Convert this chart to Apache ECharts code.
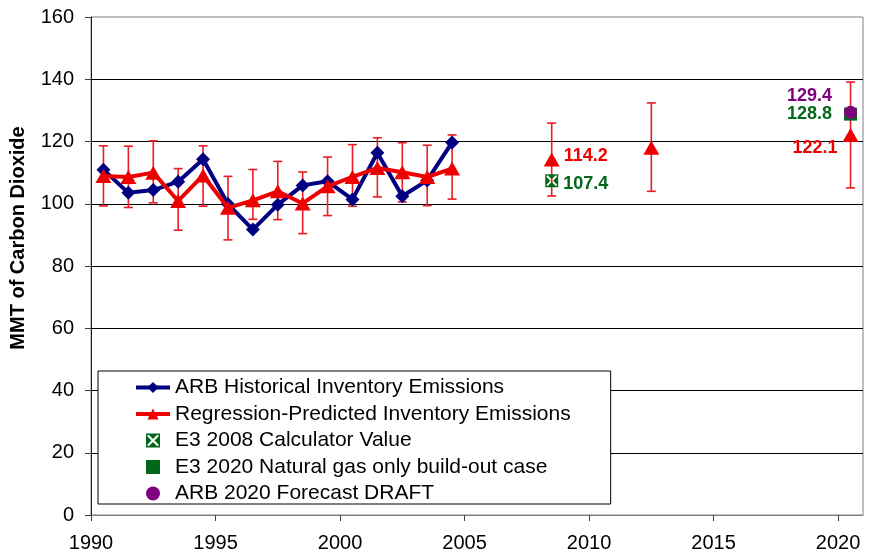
<!DOCTYPE html>
<html>
<head>
<meta charset="utf-8">
<script src="https://cdn.jsdelivr.net/npm/echarts@6/dist/echarts.min.js"></script>
<style>
  html, body { margin: 0; padding: 0; background: #ffffff; }
  #chart { width: 876px; height: 557px; }
</style>
</head>
<body>
<div id="chart"></div>
<script>
// Inventory years (each value is plotted at the middle of its year)
const histYears = [1990, 1991, 1992, 1993, 1994, 1995, 1996, 1997, 1998, 1999, 2000, 2001, 2002, 2003, 2004];
// ARB historical inventory, MMT CO2
const arbHistorical = [110.9, 103.5, 104.4, 107.1, 114.3, 99.9, 91.7, 99.7, 105.9, 107.2, 101.4, 116.4, 102.4, 107.5, 119.7];
// Regression-predicted inventory and its error range
const regressionPredicted = [108.9, 108.6, 110.0, 100.9, 109.1, 98.7, 101.1, 104.0, 100.1, 105.6, 108.6, 111.5, 110.1, 108.6, 111.3];
const regressionErrHigh = [118.6, 118.5, 120.2, 111.3, 118.6, 108.8, 111.0, 113.6, 110.2, 115.0, 119.0, 121.2, 119.6, 118.8, 122.1];
const regressionErrLow = [99.3, 98.8, 100.3, 91.5, 99.2, 88.4, 95.0, 94.9, 90.4, 96.2, 99.2, 102.2, 100.6, 99.4, 101.5];
// Projected regression values
const projYears = [2008, 2012, 2020];
const regressionProjected = [114.2, 118.0, 122.1];
const projErrHigh = [125.9, 132.4, 139.1];
const projErrLow = [102.5, 104.0, 105.1];
const projLabeled = [true, false, true];
// Single-point comparisons
const e3CalcYear = 2008, e3CalcValue = 107.4;
const e3GasYear = 2020, e3GasValue = 128.8;
const arbForecastYear = 2020, arbForecastValue = 129.4;
// Axis ticks
const xTicks = [1990, 1995, 2000, 2005, 2010, 2015, 2020];
const yTitle = 'MMT of Carbon Dioxide';
const seriesNames = [
  'ARB Historical Inventory Emissions',
  'Regression-Predicted Inventory Emissions',
  'E3 2008 Calculator Value',
  'E3 2020 Natural gas only build-out case',
  'ARB 2020 Forecast DRAFT'
];

const FONT = "'Liberation Sans', Arial, Helvetica, sans-serif";
const NAVY = '#000080';
const RED = '#ee0000';
const GREEN = '#006818';
const PURPLE = '#800080';
const MID = 0.5;

// square with a white X knocked out of it
const crossedSquare = 'path://M0 0H14V14H0Z M1.5 1.5V12.5H12.5V1.5Z M3 1.5H11L7 5.5Z M12.5 3V11L8.5 7Z M11 12.5H3L7 8.5Z M1.5 11V3L5.5 7Z';
const plainSquare = 'path://M0 0H14V14H0Z';

const histData = histYears.map((y, i) => [y + MID, arbHistorical[i]]);
const regData = histYears.map((y, i) => [y + MID, regressionPredicted[i]]);
const errData = histYears.map((y, i) => [y + MID, regressionErrLow[i], regressionErrHigh[i]])
  .concat(projYears.map((y, i) => [y + MID, projErrLow[i], projErrHigh[i]]));

const valueLabel = { show: true, fontFamily: FONT, fontWeight: 'bold', fontSize: 18,
  formatter: p => p.value[1].toFixed(1) };

const projData = projYears.map((y, i) => {
  const item = { value: [y + MID, regressionProjected[i]] };
  if (!projLabeled[i]) item.label = { show: false };
  else if (y === 2008) item.label = Object.assign({}, valueLabel, { color: RED, position: 'right', distance: 4, offset: [0, -4] });
  else item.label = Object.assign({}, valueLabel, { color: RED, position: 'left', distance: 5, offset: [0, 13] });
  return item;
});

function renderErrorBar(params, api) {
  const x = api.value(0);
  const top = api.coord([x, api.value(2)]);
  const bot = api.coord([x, api.value(1)]);
  const hw = 4.5;
  const style = { stroke: '#ec1c24', lineWidth: 1.6 };
  return {
    type: 'group',
    children: [
      { type: 'line', shape: { x1: top[0], y1: top[1], x2: bot[0], y2: bot[1] }, style: style },
      { type: 'line', shape: { x1: top[0] - hw, y1: top[1], x2: top[0] + hw, y2: top[1] }, style: style },
      { type: 'line', shape: { x1: bot[0] - hw, y1: bot[1], x2: bot[0] + hw, y2: bot[1] }, style: style }
    ]
  };
}

const chart = echarts.init(document.getElementById('chart'), null, { renderer: 'canvas' });
chart.setOption({
  animation: false,
  backgroundColor: '#ffffff',
  textStyle: { fontFamily: FONT },
  grid: {
    left: 91, right: 13, top: 17, bottom: 42,
    show: true, borderColor: '#808080', borderWidth: 1,
    containLabel: false, outerBoundsMode: 'none'
  },
  graphic: [{
    type: 'text', x: 18, y: 238, rotation: Math.PI / 2,
    style: {
      text: yTitle, fill: '#000', font: 'bold 20px ' + FONT,
      align: 'center', verticalAlign: 'middle'
    }
  }],
  xAxis: {
    type: 'value', min: 1990, max: 2021, interval: 5,
    axisLine: { show: true, lineStyle: { color: '#808080', width: 1 } },
    axisTick: { show: true, length: 6, lineStyle: { color: '#404040' }, customValues: xTicks },
    axisLabel: { color: '#000', fontSize: 20, fontFamily: FONT, margin: 18, customValues: xTicks,
      formatter: v => String(v) },
    splitLine: { show: false }
  },
  yAxis: {
    type: 'value', min: 0, max: 160, interval: 20,
    axisLine: { show: true, lineStyle: { color: '#202020', width: 1 } },
    axisTick: { show: true, length: 6, lineStyle: { color: '#404040' } },
    axisLabel: { color: '#000', fontSize: 20, fontFamily: FONT, margin: 17 },
    splitLine: { show: true, showMinLine: false, showMaxLine: false, lineStyle: { color: '#000', width: 1 } }
  },
  legend: {
    orient: 'vertical', left: 98, top: 371,
    padding: [6, 40, 0, 36],
    itemWidth: 34, itemHeight: 14, itemGap: 5.5,
    backgroundColor: '#ffffff', borderColor: '#000', borderWidth: 1, borderRadius: 0,
    lineStyle: { width: 4 },
    textStyle: { color: '#000', fontSize: 21, fontFamily: FONT, lineHeight: 20 },
    data: [
      { name: seriesNames[0] },
      { name: seriesNames[1] },
      { name: seriesNames[2], icon: crossedSquare },
      { name: seriesNames[3], icon: plainSquare },
      { name: seriesNames[4], icon: 'circle' }
    ]
  },
  series: [
    {
      name: 'error range', type: 'custom', renderItem: renderErrorBar,
      data: errData, encode: { x: 0, y: [1, 2] }, z: 1, silent: true
    },
    {
      name: seriesNames[0], type: 'line', data: histData, z: 2,
      symbol: 'diamond', symbolSize: 14,
      lineStyle: { color: NAVY, width: 4 },
      itemStyle: { color: NAVY, opacity: 1 }
    },
    {
      name: seriesNames[1], type: 'line', data: regData, z: 3,
      symbol: 'triangle', symbolSize: [16, 14],
      lineStyle: { color: RED, width: 4 },
      itemStyle: { color: RED, opacity: 1 }
    },
    {
      name: seriesNames[1], type: 'scatter', data: projData, z: 3,
      symbol: 'triangle', symbolSize: [16, 14],
      itemStyle: { color: RED, opacity: 1 }
    },
    {
      name: seriesNames[2], type: 'scatter', z: 4,
      data: [{ value: [e3CalcYear + MID, e3CalcValue] }],
      symbol: crossedSquare, symbolSize: 13,
      itemStyle: { color: GREEN, opacity: 1 },
      label: Object.assign({}, valueLabel, { color: GREEN, position: 'right', distance: 5, offset: [0, 3] })
    },
    {
      name: seriesNames[3], type: 'scatter', z: 4,
      data: [{ value: [e3GasYear + MID, e3GasValue] }],
      symbol: plainSquare, symbolSize: 13,
      itemStyle: { color: GREEN, opacity: 1 },
      label: Object.assign({}, valueLabel, { color: GREEN, position: 'left', distance: 12, offset: [0, 0] })
    },
    {
      name: seriesNames[4], type: 'scatter', z: 5,
      data: [{ value: [arbForecastYear + MID, arbForecastValue] }],
      symbol: 'circle', symbolSize: 13,
      itemStyle: { color: PURPLE, opacity: 1 },
      label: Object.assign({}, valueLabel, { color: PURPLE, position: 'left', distance: 12, offset: [0, -16] })
    }
  ]
});
</script>
</body>
</html>
